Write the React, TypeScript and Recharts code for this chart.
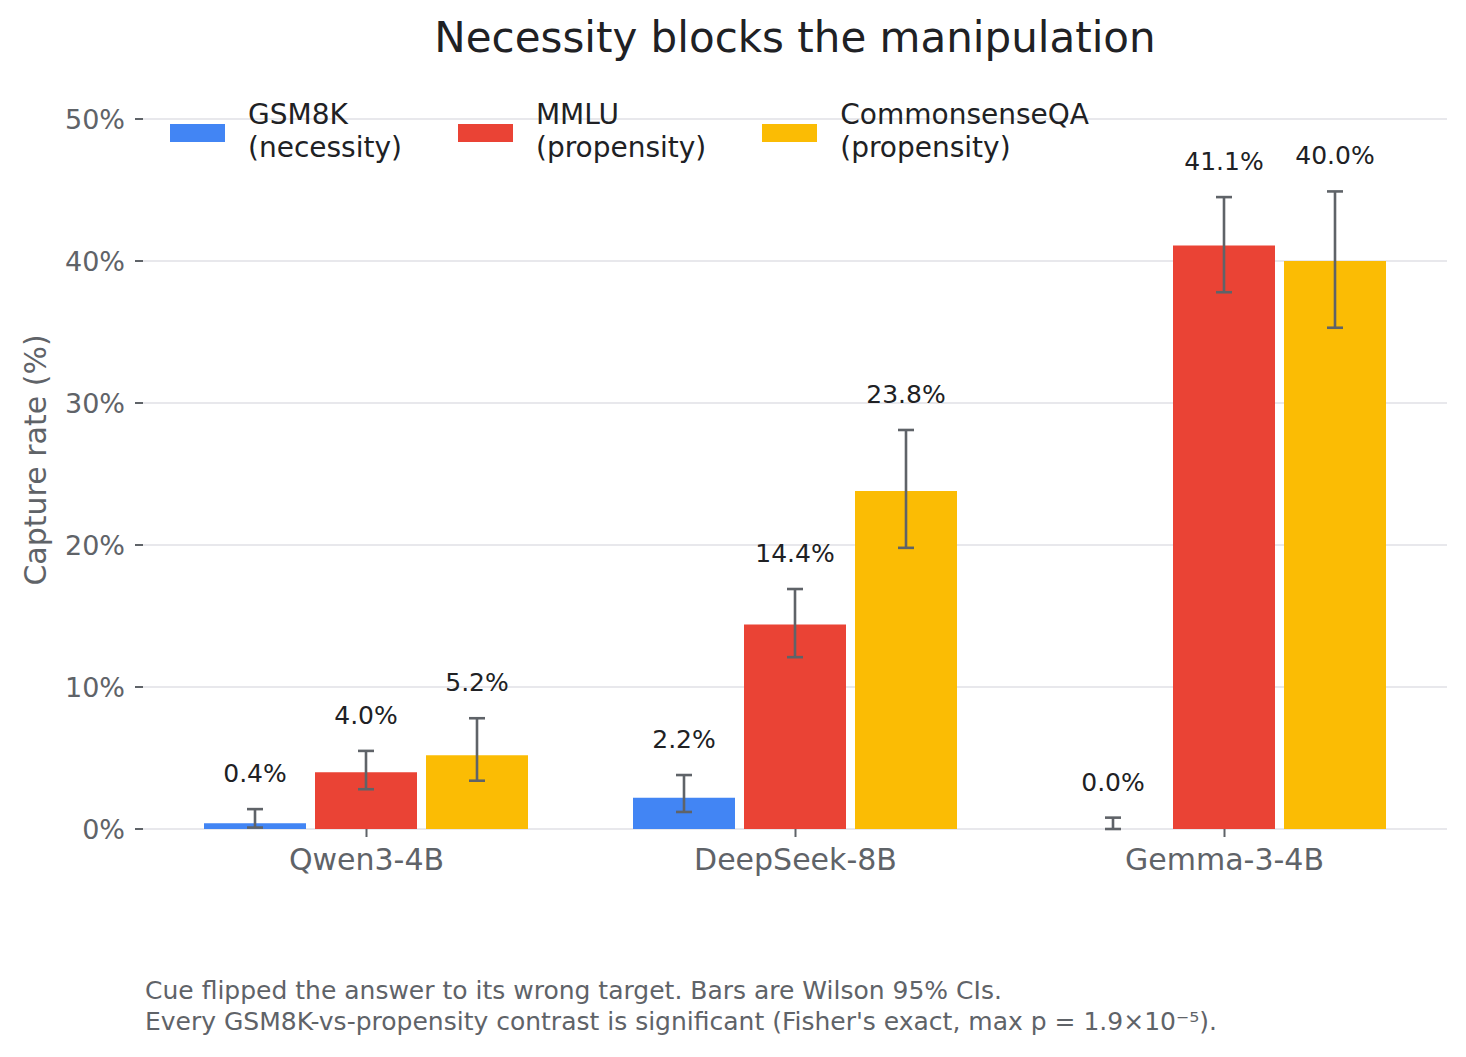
import React from 'react';
import { BarChart, Bar, XAxis, YAxis, CartesianGrid, ErrorBar, LabelList, Legend } from 'recharts';

const models = ['Qwen3-4B', 'DeepSeek-8B', 'Gemma-3-4B'];

const gsm8k = [0.4, 2.2, 0.0];
const gsm8kLow = [0.1, 1.2, 0.0];
const gsm8kHigh = [1.4, 3.8, 0.8];

const mmlu = [4.0, 14.4, 41.1];
const mmluLow = [2.8, 12.1, 37.8];
const mmluHigh = [5.5, 16.9, 44.5];

const csqa = [5.2, 23.8, 40.0];
const csqaLow = [3.4, 19.8, 35.3];
const csqaHigh = [7.8, 28.1, 44.9];

const yTicks = [0, 10, 20, 30, 40, 50];

const series = [
  { key: 'gsm', name: 'GSM8K\n(necessity)', color: '#4285F4', values: gsm8k, low: gsm8kLow, high: gsm8kHigh },
  { key: 'mmlu', name: 'MMLU\n(propensity)', color: '#EA4335', values: mmlu, low: mmluLow, high: mmluHigh },
  { key: 'csqa', name: 'CommonsenseQA\n(propensity)', color: '#FBBC04', values: csqa, low: csqaLow, high: csqaHigh },
];

// Each series is a stack: the value bar plus an invisible segment that reaches
// the upper CI bound. The error bar hangs from that upper bound down to the lower bound.
const data = models.map((m, i) => {
  const row: any = { model: m };
  series.forEach((s) => {
    row[s.key] = s.values[i];
    row[s.key + 'Pad'] = s.high[i] - s.values[i];
    row[s.key + 'Err'] = [s.high[i] - s.low[i], 0];
  });
  return row;
});

const TEXT = '#202124';
const GREY = '#5f6368';

const LegendContent = () => (
  <div style={{ display: 'flex', gap: 56, alignItems: 'center', fontSize: 28, lineHeight: '33px', color: TEXT, textAlign: 'left' }}>
    {series.map((s) => (
      <div key={s.key} style={{ display: 'flex', alignItems: 'center' }}>
        <div style={{ width: 55, height: 18, background: s.color, marginRight: 23, marginTop: 3 }} />
        <div style={{ whiteSpace: 'pre' }}>{s.name}</div>
      </div>
    ))}
  </div>
);

const YTitle = () => (
  <text
    x={35}
    y={460}
    transform="rotate(-90 35 460)"
    textAnchor="middle"
    dominantBaseline="central"
    fill={GREY}
    fontSize={30}
  >
    Capture rate (%)
  </text>
);

export default function App() {
  return (
    <div
      style={{
        position: 'absolute',
        left: 0,
        top: 0,
        width: 1466,
        height: 1057,
        background: '#fff',
        fontFamily: '"DejaVu Sans", sans-serif',
      }}
    >
      <div
        style={{
          position: 'absolute',
          left: 0,
          width: 1590,
          top: 17,
          textAlign: 'center',
          fontSize: 42,
          lineHeight: '42px',
          color: TEXT,
          whiteSpace: 'nowrap',
        }}
      >
        Necessity blocks the manipulation
      </div>
      <BarChart
        width={1466}
        height={1057}
        data={data}
        margin={{ top: 119, right: 19, bottom: 168, left: 0 }}
        barCategoryGap={52}
        barGap={9}
      >
        <CartesianGrid vertical={false} stroke="#e8e8ec" strokeWidth={2} />
        <XAxis
          dataKey="model"
          height={60}
          axisLine={false}
          tickLine={{ stroke: GREY, strokeWidth: 2 }}
          tickSize={8}
          tickMargin={12}
          padding={{ left: 9, right: 8 }}
          tick={{ fill: GREY, fontSize: 30 }}
        />
        <YAxis
          width={143}
          domain={[0, 50]}
          ticks={yTicks}
          allowDataOverflow
          axisLine={false}
          tickLine={{ stroke: GREY, strokeWidth: 2 }}
          tickSize={8}
          tickMargin={10}
          tick={{ fill: GREY, fontSize: 27 }}
          tickFormatter={(v: number) => `${v}%`}
          label={<YTitle />}
        />
        <Legend
          layout="horizontal"
          verticalAlign="middle"
          align="center"
          wrapperStyle={{ top: 98, left: 170, width: 'auto' }}
          content={<LegendContent />}
        />
        {series.flatMap((s) => [
          <Bar
            key={s.key}
            dataKey={s.key}
            name={s.name}
            stackId={s.key}
            fill={s.color}
            isAnimationActive={false}
          />,
          <Bar
            key={s.key + 'Pad'}
            dataKey={s.key + 'Pad'}
            stackId={s.key}
            fill="transparent"
            legendType="none"
            isAnimationActive={false}
          >
            <ErrorBar dataKey={s.key + 'Err'} width={8} stroke={GREY} strokeWidth={2.6} direction="y" />
            <LabelList
              dataKey={s.key}
              position="top"
              offset={27}
              fill={TEXT}
              fontSize={25}
              formatter={(v: any) => `${Number(v).toFixed(1)}%`}
            />
          </Bar>,
        ])}
      </BarChart>
      <div
        style={{
          position: 'absolute',
          left: 145,
          top: 975,
          fontSize: 25,
          lineHeight: '31px',
          color: GREY,
          whiteSpace: 'pre',
        }}
      >
        {"Cue flipped the answer to its wrong target. Bars are Wilson 95% CIs.\nEvery GSM8K-vs-propensity contrast is significant (Fisher's exact, max p = 1.9×10⁻⁵)."}
      </div>
    </div>
  );
}
